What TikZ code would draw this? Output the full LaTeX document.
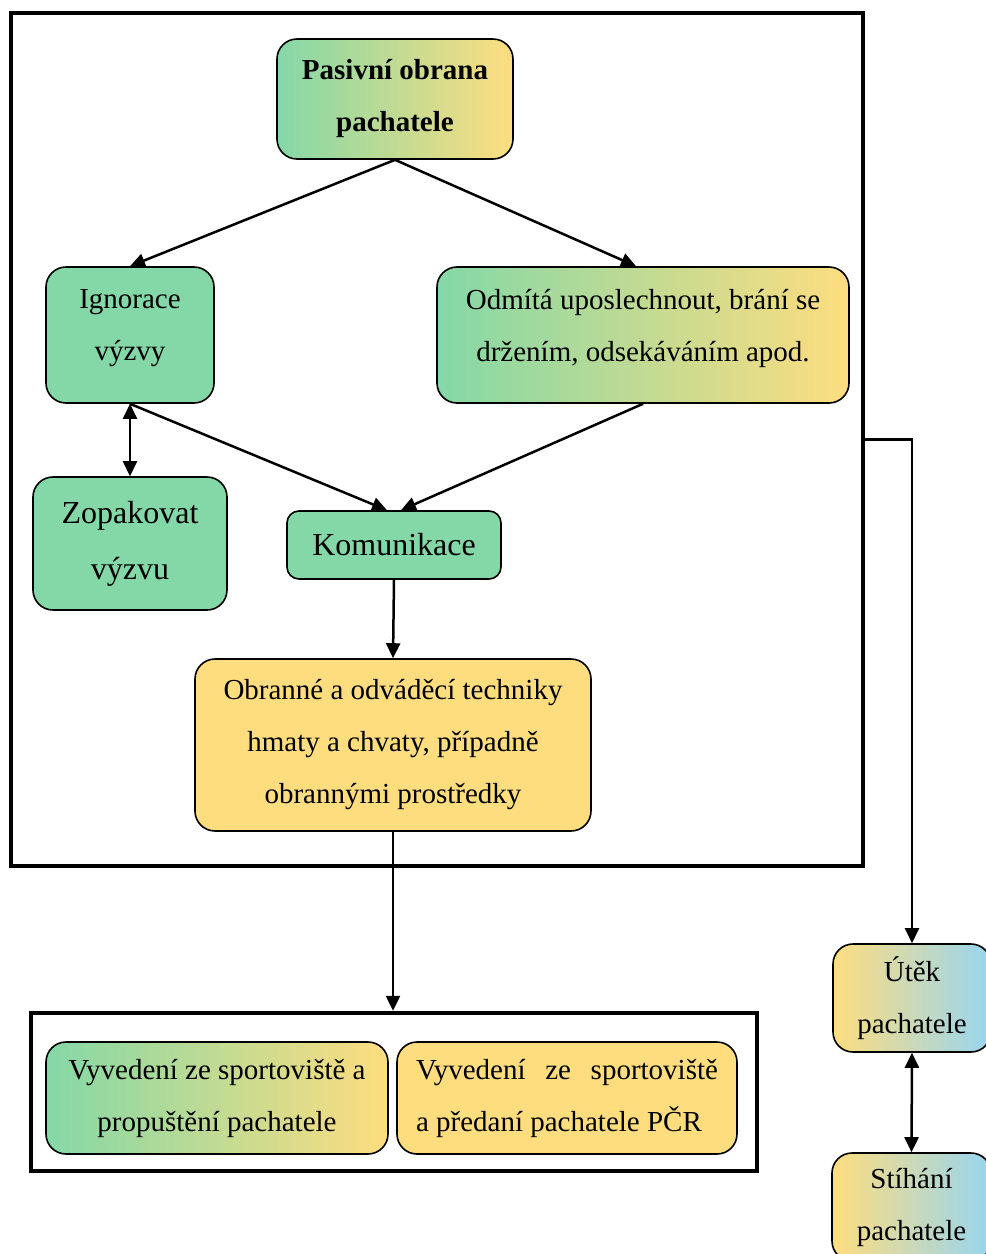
\documentclass[tikz,border=0pt]{standalone}
\usepackage{fontspec}
\setmainfont{Liberation Serif}
\usetikzlibrary{arrows.meta}
\definecolor{gr}{HTML}{84D8A7}
\definecolor{ye}{HTML}{FEDD7F}
\definecolor{bl}{HTML}{97D5F1}
\begin{document}
\begin{tikzpicture}[x=1pt,y=-1pt,
  box/.style={draw=black, line width=1.6pt, rounded corners=20pt, align=center,
    font=\fontsize{29}{52}\selectfont, inner sep=0pt},
  grbox/.style={box, fill=gr},
  yebox/.style={box, fill=ye},
  gybox/.style={box, left color=gr, right color=ye},
  ybbox/.style={box, left color=ye, right color=bl},
  bigfont/.style={font=\fontsize{32}{56}\selectfont},
  frame/.style={draw=black, line width=4.5pt, inner sep=0pt},
  arr/.style={line width=2.5pt, -{Triangle[length=15pt,width=14pt]}},
  darr/.style={line width=2.5pt, {Triangle[length=15pt,width=14pt]}-{Triangle[length=15pt,width=14pt]}},
  thinarr/.style={line width=2.2pt, -{Triangle[length=15pt,width=14pt]}}]
\useasboundingbox (0,0) rectangle (986,1254);
\clip (0,0) rectangle (986,1254);
\fill[white] (0,0) rectangle (986,1254);

% frames
\node[frame, minimum width=852pt, minimum height=853pt] (outer) at (437,439.5) {};
\node[frame, minimum width=726pt, minimum height=158pt] (bot) at (394,1092) {};

% boxes
\node[gybox, font=\bfseries\fontsize{29}{52}\selectfont, minimum width=236pt, minimum height=120pt] (pas) at (395,99) {Pasivní obrana\\pachatele};
\node[grbox, minimum width=168pt, minimum height=136pt, text depth=20pt] (ign) at (130,335) {Ignorace\\výzvy};
\node[gybox, minimum width=412pt, minimum height=136pt, text depth=20pt] (odm) at (643,335) {Odmítá uposlechnout, brání se\\držením, odsekáváním apod.};
\node[grbox, bigfont, minimum width=194pt, minimum height=133pt] (zop) at (130,543.5) {Zopakovat\\výzvu};
\node[grbox, bigfont, rounded corners=12pt, minimum width=214pt, minimum height=68pt] (kom) at (394,545) {Komunikace};
\node[yebox, minimum width=396pt, minimum height=172pt] (obr) at (393,745) {Obranné a odváděcí techniky\\hmaty a chvaty, případně\\obrannými prostředky};
\node[gybox, minimum width=342pt, minimum height=112pt] (vl) at (217,1098) {Vyvedení ze sportoviště a\\propuštění pachatele};
\node[yebox, align=left, minimum width=340pt, minimum height=112pt] (vr) at (567,1098) {\hbox to 302pt{Vyvedení\hfill ze\hfill sportoviště}\\a předaní pachatele PČR};
\node[ybbox, minimum width=158pt, minimum height=108pt] (ute) at (912,998) {Útěk\\pachatele};
\node[ybbox, minimum width=159pt, minimum height=108pt] (sti) at (911.5,1207) {Stíhání\\pachatele};

% connectors
\draw[arr] (pas.south) -- (ign.north);
\draw[arr] (pas.south) -- ([xshift=-7pt]odm.north);
\draw[darr] (ign.south) -- (zop.north);
\draw[arr] (ign.south) -- ([xshift=-7pt]kom.north);
\draw[arr] (odm.south) -- ([xshift=7pt]kom.north);
\draw[arr] (kom.south) -- (obr.north);
\draw[arr] (obr.south) -- (obr.south |- bot.north);
\draw[thinarr] (outer.east) -| (ute.north);
\draw[darr] (ute.south) -- (sti.north);
\end{tikzpicture}
\end{document}
